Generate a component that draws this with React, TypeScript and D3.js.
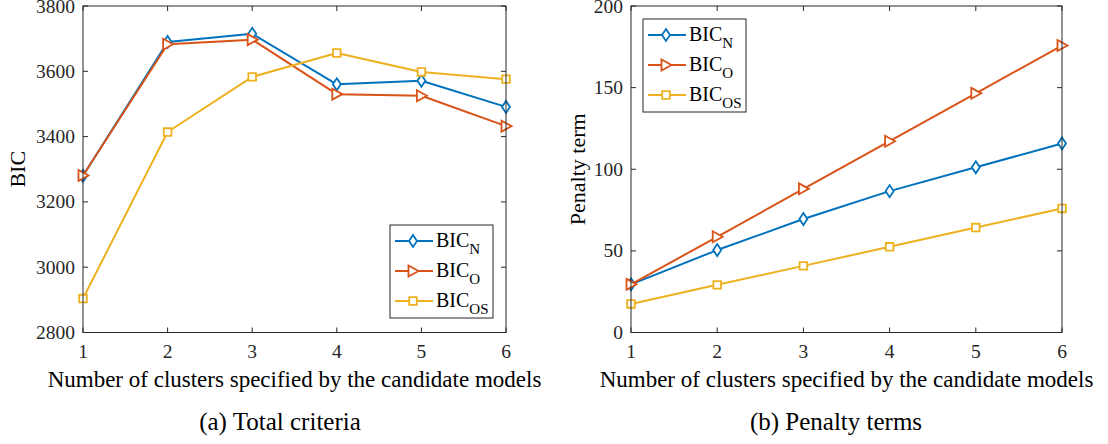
import * as d3 from 'd3';

// number of clusters
const clusters = [1, 2, 3, 4, 5, 6];

// (a) total criteria
const totalN = [3280, 3690, 3715, 3560, 3571, 3491];
const totalO = [3281, 3683, 3697, 3530, 3525, 3432];
const totalOS = [2904, 3414, 3583, 3656, 3598, 3576];

// (b) penalty terms
const penN = [29.5, 50.5, 69.5, 86.6, 101.2, 115.8];
const penO = [29.5, 58.6, 88, 117.2, 146.5, 175.8];
const penOS = [17.5, 29.2, 40.8, 52.5, 64.3, 76];

const totalTicks = [2800, 3000, 3200, 3400, 3600, 3800];
const penTicks = [0, 50, 100, 150, 200];

const seriesNames = ['N', 'O', 'OS'];
const colors = ['#0072BD', '#D95319', '#EDB120'];
const markers = ['diamond', 'triangle', 'square'];

const FONT = "'Liberation Serif', 'Times New Roman', 'DejaVu Serif', serif";
const AXIS = '#262626';

function markerPath(kind: string) {
  const p = d3.path();
  if (kind === 'diamond') {
    p.moveTo(0, -6); p.lineTo(4, 0); p.lineTo(0, 6); p.lineTo(-4, 0); p.closePath();
  } else if (kind === 'triangle') {
    p.moveTo(5.5, 0); p.lineTo(-4.5, -5.5); p.lineTo(-4.5, 5.5); p.closePath();
  } else {
    p.rect(-3.8, -3.8, 7.6, 7.6);
  }
  return p.toString();
}

function Legend({ x, y }: { x: number; y: number }) {
  const w = 103, h = 93, step = 30;
  return (
    <g transform={`translate(${x},${y})`}>
      <rect width={w} height={h} fill="white" stroke={AXIS} strokeWidth={1} />
      {seriesNames.map((n, i) => {
        const cy = 16 + i * step;
        return (
          <g key={n}>
            <line x1={5} x2={43} y1={cy} y2={cy} stroke={colors[i]} strokeWidth={2} />
            <path d={markerPath(markers[i])} transform={`translate(23,${cy})`}
              fill="white" stroke={colors[i]} strokeWidth={1.8} />
            <text x={46} y={cy + 6} fontSize={20} fill="#000" style={{ fontFamily: FONT }}>
              BIC<tspan dy={7} fontSize={15}>{n}</tspan>
            </text>
          </g>
        );
      })}
    </g>
  );
}

function Panel({ x0, x1, y0, y1, domain, ticks, series, ylabel, ylabelX, legend }: any) {
  const x = d3.scaleLinear().domain([1, 6]).range([x0, x1]);
  const y = d3.scaleLinear().domain(domain).range([y1, y0]);
  const line = d3.line<number>().x((_, i) => x(clusters[i])).y(d => y(d));
  const tl = 5;
  return (
    <g>
      {clusters.map(c => (
        <g key={'x' + c}>
          <line x1={x(c)} x2={x(c)} y1={y1} y2={y1 - tl} stroke={AXIS} />
          <line x1={x(c)} x2={x(c)} y1={y0} y2={y0 + tl} stroke={AXIS} />
          <text x={x(c)} y={y1 + 25} textAnchor="middle" fontSize={19.5} style={{ fontFamily: FONT }} fill={AXIS}>{c}</text>
        </g>
      ))}
      {ticks.map((t: number) => (
        <g key={'y' + t}>
          <line x1={x0} x2={x0 + tl} y1={y(t)} y2={y(t)} stroke={AXIS} />
          <line x1={x1} x2={x1 - tl} y1={y(t)} y2={y(t)} stroke={AXIS} />
          <text x={x0 - 8} y={y(t) + 6.5} textAnchor="end" fontSize={19.5} style={{ fontFamily: FONT }} fill={AXIS}>{t}</text>
        </g>
      ))}
      {series.map((s: number[], i: number) => (
        <g key={'s' + i}>
          <path d={line(s) || ''} fill="none" stroke={colors[i]} strokeWidth={2} strokeLinejoin="round" />
          {s.map((v, j) => (
            <path key={j} d={markerPath(markers[i])} transform={`translate(${x(clusters[j])},${y(v)})`}
              fill="white" stroke={colors[i]} strokeWidth={1.8} />
          ))}
        </g>
      ))}
      <rect x={x0} y={y0} width={x1 - x0} height={y1 - y0} fill="none" stroke={AXIS} strokeWidth={1} />
      {legend}
      <text transform={`translate(${ylabelX},${(y0 + y1) / 2}) rotate(-90)`} textAnchor="middle"
        fontSize={22} style={{ fontFamily: FONT }} fill="#000">{ylabel}</text>
      <text x={(x0 + x1) / 2} y={y1 + 54} textAnchor="middle" fontSize={23} style={{ fontFamily: FONT }} fill="#000">
        Number of clusters specified by the candidate models
      </text>
    </g>
  );
}

export default function App() {
  return (
    <svg width={1108} height={444} style={{ position: 'absolute', left: 0, top: 0, background: 'white' }}>
      <Panel x0={83} x1={506} y0={6} y1={332.5} domain={[2800, 3800]} ticks={totalTicks}
        series={[totalN, totalO, totalOS]} ylabel="BIC" ylabelX={25}
        legend={<Legend x={390} y={225} />} />
      <Panel x0={631} x1={1062} y0={6} y1={332.5} domain={[0, 200]} ticks={penTicks}
        series={[penN, penO, penOS]} ylabel="Penalty term" ylabelX={585}
        legend={<Legend x={643} y={19} />} />
      <text x={280} y={430} textAnchor="middle" fontSize={25} style={{ fontFamily: FONT }} fill="#000">(a) Total criteria</text>
      <text x={836} y={430} textAnchor="middle" fontSize={25} style={{ fontFamily: FONT }} fill="#000">(b) Penalty terms</text>
    </svg>
  );
}
